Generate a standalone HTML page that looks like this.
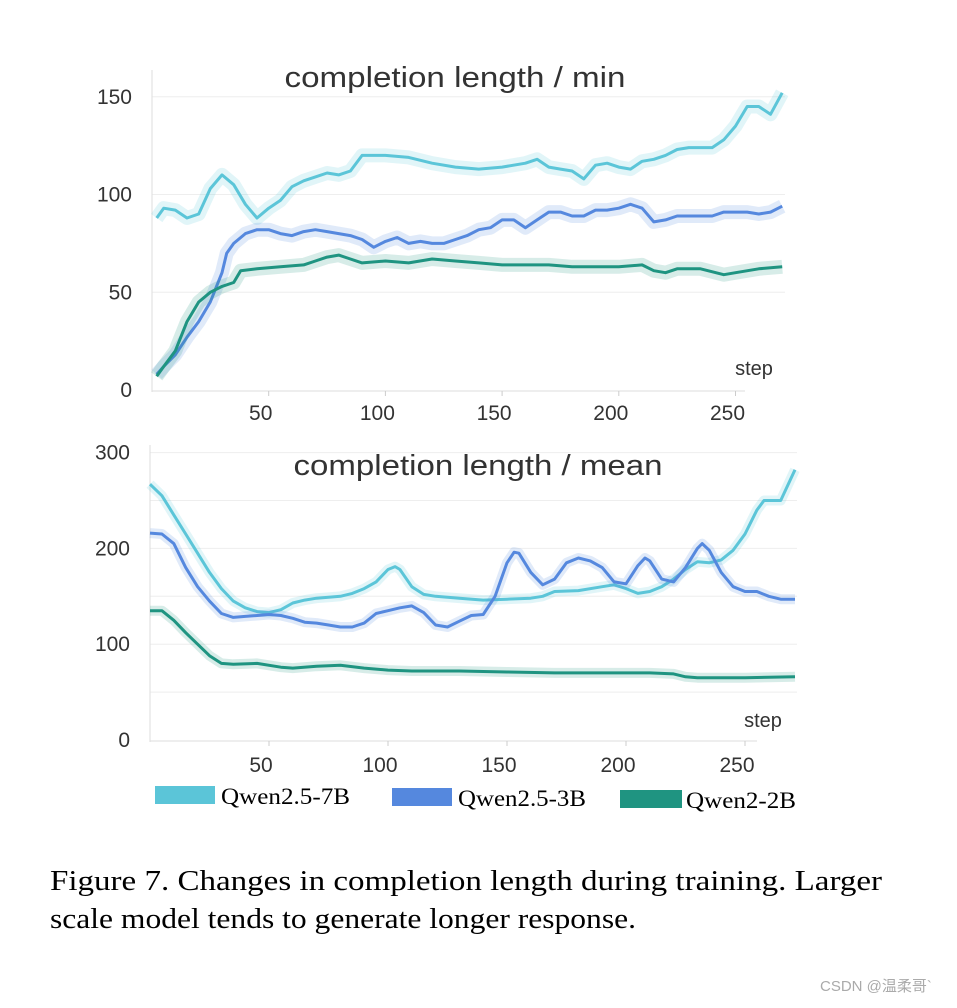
<!DOCTYPE html>
<html><head><meta charset="utf-8"><style>
body{margin:0;background:#fff;}
svg text{font-family:"Liberation Sans","Noto Sans CJK SC",sans-serif;}
.ser{font-family:"Liberation Serif",serif !important;}
</style></head><body>
<svg id="fig" width="957" height="1003" viewBox="0 0 957 1003" xmlns="http://www.w3.org/2000/svg">
<g id="top"></g>
<g id="bot"></g>
<g>
 <rect x="155" y="786" width="60" height="18" fill="#5bc5d8"/>
 <text class="ser" x="221" y="804" font-size="23" textLength="129" lengthAdjust="spacingAndGlyphs" fill="#000">Qwen2.5-7B</text>
 <rect x="392" y="788" width="60" height="18" fill="#5588de"/>
 <text class="ser" x="458" y="806" font-size="23" textLength="128" lengthAdjust="spacingAndGlyphs" fill="#000">Qwen2.5-3B</text>
 <rect x="620" y="790" width="62" height="18" fill="#1f9481"/>
 <text class="ser" x="686" y="808" font-size="23" textLength="110" lengthAdjust="spacingAndGlyphs" fill="#000">Qwen2-2B</text>
</g>
<text class="ser" x="50" y="890" font-size="29" textLength="832" lengthAdjust="spacingAndGlyphs" fill="#000">Figure 7.  Changes in completion length during training.  Larger</text>
<text class="ser" x="50" y="928" font-size="29" textLength="586" lengthAdjust="spacingAndGlyphs" fill="#000">scale model tends to generate longer response.</text>
<text x="820" y="991" font-size="15" fill="#aaa">CSDN @温柔哥`</text>
</svg>
<script>
const xTicks=[50,100,150,200,250];
const topYTicks=[0,50,100,150];
const botYTicks=[0,100,200,300];
const minSteps7=[2,5,10,15,20,25,30,35,40,45,50,55,60,65,70,75,80,85,90,95,100,110,120,130,140,150,160,165,170,175,180,185,190,195,200,205,210,215,220,225,230,235,240,245,250,255,260,265,270];
const min7=[88,93,92,88,90,103,110,105,95,88,93,97,104,107,109,111,110,112,120,120,120,119,116,114,113,114,116,118,114,113,112,108,115,116,114,113,117,118,120,123,124,124,124,128,135,145,145,141,152];
const minSteps3=[2,5,10,15,20,25,30,32,35,40,45,50,55,60,65,70,75,80,85,90,95,100,105,110,115,120,125,130,135,140,145,150,155,160,165,170,175,180,185,190,195,200,205,210,215,220,225,230,240,245,250,255,260,265,270];
const min3=[8,12,18,27,35,45,60,70,75,80,82,82,80,79,81,82,81,80,79,77,73,76,78,75,76,75,75,77,79,82,83,87,87,83,87,91,91,89,89,92,92,93,95,93,86,87,89,89,89,91,91,91,90,91,94];
const minSteps2=[2,5,10,15,20,25,30,35,38,45,55,65,70,75,80,85,90,100,110,120,130,140,150,160,170,180,190,200,210,215,220,225,235,245,250,260,270];
const min2=[7,12,20,35,45,50,53,55,61,62,63,64,66,68,69,67,65,66,65,67,66,65,64,64,64,63,63,63,64,61,60,62,62,59,60,62,63];
const meanSteps7=[0,5,10,15,20,25,30,35,40,45,50,55,60,65,70,75,80,85,90,95,100,103,105,110,115,120,130,140,150,160,165,170,180,190,195,200,205,210,215,220,225,230,235,240,245,250,255,258,265,271];
const mean7=[267,255,235,215,195,175,158,145,138,134,133,136,143,146,148,149,150,153,158,165,178,181,178,160,152,150,148,146,147,148,150,155,156,160,162,158,153,155,160,168,178,186,185,188,198,215,240,250,250,282];
const meanSteps3=[0,5,10,15,20,25,30,35,40,45,50,55,60,65,70,75,80,85,90,95,100,105,110,115,120,125,130,135,140,145,150,153,155,160,165,170,175,180,185,190,195,200,205,208,210,215,220,225,230,232,235,240,245,250,255,260,265,271];
const mean3=[216,215,205,180,160,145,132,128,129,130,131,130,127,123,122,120,118,118,122,132,135,138,140,133,120,118,124,130,131,150,185,196,195,175,162,168,185,190,187,180,165,163,182,190,187,168,165,180,200,205,198,175,160,155,155,150,147,147];
const meanSteps2=[0,5,10,15,20,25,30,35,45,55,60,70,80,90,100,110,130,150,170,190,210,220,225,230,250,271];
const mean2=[135,135,125,112,100,88,80,79,80,76,75,77,78,75,73,72,72,71,70,70,70,69,66,65,65,66];
const NS="http://www.w3.org/2000/svg";
function mk(p,t,a){const e=document.createElementNS(NS,t);for(const k in a)e.setAttribute(k,a[k]);p.appendChild(e);return e;}
function chart(g,cfg){
 const X=s=>cfg.x0+s*cfg.xs, Y=v=>cfg.y0-v*cfg.ys;
 cfg.grid.forEach(v=>{const l=mk(g,'line',{x1:cfg.x0,x2:cfg.xEnd,y1:Y(v),y2:Y(v),stroke:'#eee','stroke-width':1});
  
  });
 const ya=mk(g,'line',{x1:cfg.x0,x2:cfg.x0,y1:cfg.yTop,y2:cfg.y0+2,stroke:'#ddd'});
 
 
 const xa=mk(g,'line',{x1:cfg.x0,x2:cfg.xEnd-40,y1:cfg.y0+1,y2:cfg.y0+1,stroke:'#ddd'});
 
 
 xTicks.forEach(s=>{const tk=mk(g,'line',{x1:X(s),x2:X(s),y1:cfg.y0+1,y2:cfg.y0+6,stroke:'#ccc'});
  
  
  const t=mk(g,'text',{x:X(s)-8,y:cfg.y0+cfg.xlOff,'text-anchor':'middle','font-size':21,fill:'#333'});t.textContent=s;
  
  });
 cfg.yt.forEach(v=>{const t=mk(g,'text',{x:cfg.x0-20,y:Y(v)+7,'text-anchor':'end','font-size':21,fill:'#333'});t.textContent=v;
  
  });
 const ti=mk(g,'text',{x:cfg.tx,y:cfg.ty,'text-anchor':'middle','font-size':29,fill:'#333',textLength:cfg.tl,lengthAdjust:'spacingAndGlyphs'});ti.textContent=cfg.title;
 
 
 const st=mk(g,'text',{x:cfg.sx,y:cfg.sy,'text-anchor':'middle','font-size':20,fill:'#333'});st.textContent='step';
 
 
 cfg.series.forEach(([xs,ys,c,n])=>{
  const d=xs.map((s,i)=>(i?'L':'M')+X(s).toFixed(1)+','+Y(ys[i]).toFixed(1)).join('');
  const b=mk(g,'path',{d:d,fill:'none',stroke:c,'stroke-opacity':0.18,'stroke-width':cfg.band,'stroke-linejoin':'round'});
  
  
  const p=mk(g,'path',{d:d,fill:'none',stroke:c,'stroke-width':3,'stroke-linejoin':'round'});
  
  
 });
}
chart(document.getElementById('top'),{x0:152,xs:2.334,y0:390,ys:1.955,xEnd:785,yTop:70,grid:[50,100,150],yt:topYTicks,xlOff:30,
 title:'completion length / min',tx:455,ty:87,tl:341,sx:754,sy:375,band:14,
 series:[[minSteps7,min7,'#5bc5d8','qwen2.5-7b-min'],[minSteps3,min3,'#5588de','qwen2.5-3b-min'],[minSteps2,min2,'#1f9481','qwen2-2b-min']]});
chart(document.getElementById('bot'),{x0:150,xs:2.38,y0:740,ys:0.958,xEnd:797,yTop:445,grid:[50,100,150,200,250,300],yt:botYTicks,xlOff:32,
 title:'completion length / mean',tx:478,ty:475,tl:369,sx:763,sy:727,band:10,
 series:[[meanSteps7,mean7,'#5bc5d8','qwen2.5-7b-mean'],[meanSteps3,mean3,'#5588de','qwen2.5-3b-mean'],[meanSteps2,mean2,'#1f9481','qwen2-2b-mean']]});
</script>
</body></html>
